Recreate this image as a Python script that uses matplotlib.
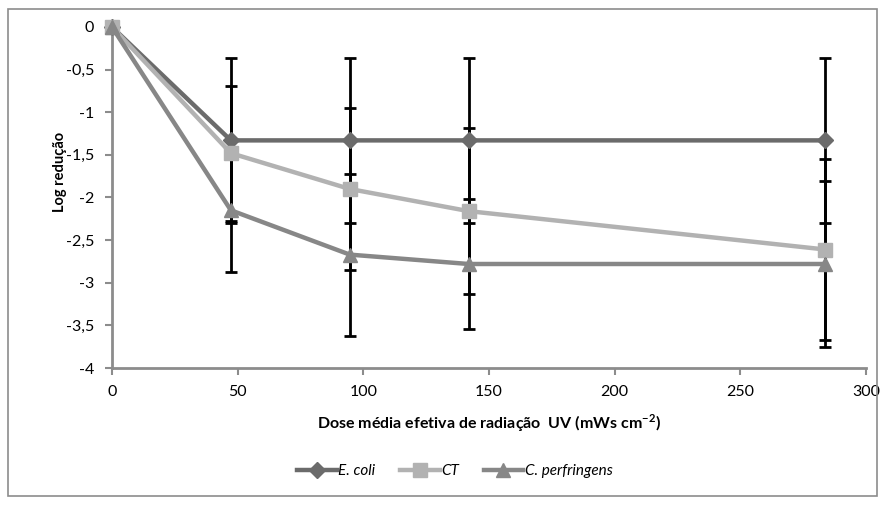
import matplotlib
matplotlib.use("Agg")
import matplotlib.pyplot as plt
from matplotlib.patches import Rectangle

# data
dose = [0, 47.3, 94.6, 141.9, 283.8]
ecoli = [0, -1.33, -1.33, -1.33, -1.33]
ct = [0, -1.48, -1.90, -2.16, -2.61]
cperf = [0, -2.15, -2.67, -2.78, -2.78]
ecoli_err = [0, 0.97, 0.97, 0.97, 0.97]
ct_err = [0, 0.79, 0.95, 0.97, 1.06]
cperf_err = [0, 0.72, 0.95, 0.76, 0.97]

y_ticks = [0, -0.5, -1, -1.5, -2, -2.5, -3, -3.5, -4]
y_ticklabels = ["0", "-0,5", "-1", "-1,5", "-2", "-2,5", "-3", "-3,5", "-4"]
x_ticks = [0, 50, 100, 150, 200, 250, 300]

plt.rcParams['font.family'] = ['Lato', 'DejaVu Sans']

fig = plt.figure(figsize=(8.85, 5.05), dpi=100)
ax = fig.add_axes([112 / 885, 1 - 368 / 505, (866 - 112) / 885, (368 - 27) / 505])

fig.patches.append(Rectangle((8 / 885, 9 / 505), 869 / 885, 487 / 505,
                             transform=fig.transFigure, fill=False,
                             edgecolor='#8c8c8c', linewidth=1.2))

series = [
    ("E. coli", ecoli, ecoli_err, '#6b6b6b', 'D', 8),
    ("CT", ct, ct_err, '#b2b2b2', 's', 9.5),
    ("C. perfringens", cperf, cperf_err, '#878787', '^', 9.5),
]

for name, vals, err, col, mk, ms in series:
    ax.errorbar(dose[1:], vals[1:], yerr=err[1:], fmt='none', ecolor='black',
                elinewidth=2, capsize=4, capthick=2, zorder=2)

for name, vals, err, col, mk, ms in series:
    ax.plot(dose, vals, color=col, linewidth=3.2, marker=mk, markersize=ms,
            markerfacecolor=col, markeredgecolor=col, label=name, zorder=3,
            clip_on=False)

ax.set_xlim(0, 300)
ax.set_ylim(-4, 0)
ax.set_xticks(x_ticks)
ax.set_yticks(y_ticks)
ax.set_yticklabels(y_ticklabels)

for s in ['top', 'right']:
    ax.spines[s].set_visible(False)
for s in ['left', 'bottom']:
    ax.spines[s].set_color('#8c8c8c')
    ax.spines[s].set_linewidth(2)
ax.tick_params(axis='both', colors='#8c8c8c', labelcolor='black', labelsize=11.5,
               length=5, width=1.5, direction='out')
ax.tick_params(axis='x', pad=7)
ax.tick_params(axis='y', pad=8)

ax.set_xlabel("Dose média efetiva de radiação  UV (mWs cm$^{\\mathregular{-2}}$)",
              fontsize=11.5, fontweight='bold', labelpad=10)

# compressed y label as in the reference, reads bottom to top
fig.text(60 / 885, 1 - 172 / 505, "Log redução", rotation=90, fontsize=10.5,
         ha='center', va='center', fontweight='bold')

leg = fig.legend(loc='center', bbox_to_anchor=(455 / 885, 1 - 471 / 505), ncol=3,
                 frameon=False, handlelength=2.6, columnspacing=1.6,
                 handletextpad=0.1, prop={'style': 'italic', 'size': 11})

fig.savefig("out.png", dpi=100)
